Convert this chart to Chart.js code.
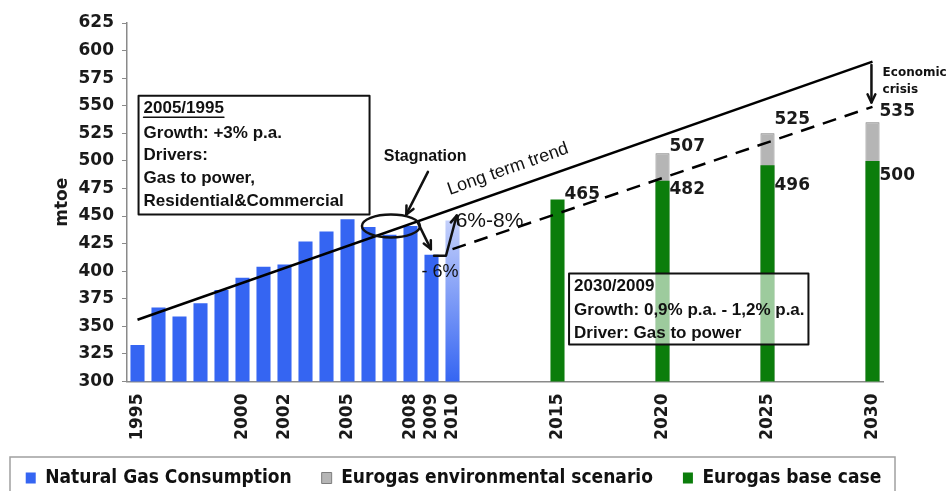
<!DOCTYPE html>
<html>
<head>
<meta charset="utf-8">
<script src="https://cdn.jsdelivr.net/npm/chart.js@4.4.1/dist/chart.umd.min.js"></script>
<style>
  html, body { margin: 0; padding: 0; background: #fff; }
  #wrap { width: 947px; height: 491px; }
</style>
</head>
<body>
<div id="wrap"><canvas id="gasChart"></canvas></div>
<script>
// one slot per year on the category axis
const years = ['1995', '1996', '1997', '1998', '1999', '2000', '2001', '2002', '2003', '2004',
  '2005', '2006', '2007', '2008', '2009', '2010', '2011', '2012', '2013', '2014', '2015',
  '2016', '2017', '2018', '2019', '2020', '2021', '2022', '2023', '2024', '2025', '2026',
  '2027', '2028', '2029', '2030'];
const shownYears = ['1995', '2000', '2002', '2005', '2008', '2009', '2010', '2015', '2020', '2025', '2030'];

const historyYears = ['1995', '1996', '1997', '1998', '1999', '2000', '2001', '2002',
  '2003', '2004', '2005', '2006', '2007', '2008', '2009', '2010'];
const consumption = [333, 367, 359, 371, 383, 394, 404, 406, 427, 436, 447, 440, 433, 441, 415, 446];

const outlookYears = ['2015', '2020', '2025', '2030'];
const baseCase = [465, 482, 496, 500];
const envScenario = [null, 507, 525, 535];

const longTrendYears = ['1995', '2030'];
const longTrend = [356, 590];
const afterCrisisYears = ['2010', '2030'];
const afterCrisis = [420, 549];

const BLUE = '#3565f2';
const GREEN = '#0b7d0b';
const GREY = '#b5b5b5';
const AXIS = '#8a8a8a';

const pts = (xs, vs) => xs.map((x, i) => ({ x, y: vs[i] })).filter(p => p.y !== null);

function blueFill(ctx) {
  const area = ctx.chart.chartArea;
  if (!ctx.raw || ctx.raw.x !== '2010' || !area) return BLUE;
  const ys = ctx.chart.scales.y;
  const g = ctx.chart.ctx.createLinearGradient(0, ys.getPixelForValue(ctx.raw.y), 0, ys.getPixelForValue(300));
  g.addColorStop(0, '#c4d0fb');
  g.addColorStop(1, BLUE);
  return g;
}

// arrows, boxes and notes drawn over the bars
const notes = {
  id: 'notes',
  afterDatasetsDraw(chart) {
    const { ctx, scales: { x, y } } = chart;
    const X = yr => x.getPixelForValue(yr - 1995);
    const Y = v => y.getPixelForValue(v);

    ctx.save();
    ctx.strokeStyle = '#000';
    ctx.fillStyle = '#111';
    ctx.lineCap = 'round';
    ctx.lineJoin = 'round';

    function arrow(points, head = 9) {
      ctx.lineWidth = 2.5;
      ctx.beginPath();
      points.forEach((p, i) => i ? ctx.lineTo(p[0], p[1]) : ctx.moveTo(p[0], p[1]));
      ctx.stroke();
      const [ax, ay] = points[points.length - 2];
      const [bx, by] = points[points.length - 1];
      const a = Math.atan2(by - ay, bx - ax);
      ctx.beginPath();
      ctx.moveTo(bx - head * Math.cos(a - 0.45), by - head * Math.sin(a - 0.45));
      ctx.lineTo(bx, by);
      ctx.lineTo(bx - head * Math.cos(a + 0.45), by - head * Math.sin(a + 0.45));
      ctx.stroke();
    }

    function textBox(x0, x1, top, bottom, lines, fill) {
      const l = X(x0), r = X(x1), t = Y(top), b = Y(bottom);
      if (fill) {
        ctx.fillStyle = fill;
        ctx.fillRect(l, t, r - l, b - t);
      }
      ctx.lineWidth = 2;
      ctx.strokeStyle = '#111';
      ctx.strokeRect(l, t, r - l, b - t);
      ctx.fillStyle = '#111';
      ctx.font = 'bold 17px "Liberation Sans", Arial, sans-serif';
      ctx.textAlign = 'left';
      ctx.textBaseline = 'middle';
      lines.forEach(([txt, dy, underline]) => {
        ctx.fillText(txt, l + 5, t + dy);
        if (underline) {
          const w = ctx.measureText(txt).width;
          ctx.lineWidth = 1.5;
          ctx.beginPath();
          ctx.moveTo(l + 5, t + dy + 8.5);
          ctx.lineTo(l + 5 + w, t + dy + 8.5);
          ctx.stroke();
        }
      });
    }

    textBox(1995.05, 2006.05, 559, 451.5, [
      ['2005/1995', 13, true],
      ['Growth: +3% p.a.', 38],
      ['Drivers:', 60],
      ['Gas to power,', 83],
      ['Residential&Commercial', 106]
    ], 'rgba(255,255,255,0.85)');

    textBox(2015.55, 2026.95, 398, 333.5, [
      ['2030/2009', 13],
      ['Growth: 0,9% p.a. - 1,2% p.a.', 37],
      ['Driver: Gas to power', 60]
    ], 'rgba(255,255,255,0.6)');

    // stagnation marker
    ctx.lineWidth = 2.5;
    ctx.beginPath();
    ctx.ellipse(X(2007.07), Y(441), 29, 11.5, 0, 0, Math.PI * 2);
    ctx.stroke();
    ctx.font = 'bold 16px "Liberation Sans", Arial, sans-serif';
    ctx.textAlign = 'center';
    ctx.textBaseline = 'middle';
    ctx.fillText('Stagnation', X(2008.7), Y(503.5));
    arrow([[X(2008.83), Y(490)], [X(2007.8), Y(451.5)]]);

    // crisis drop and rebound
    arrow([[X(2008.35), Y(444)], [X(2008.97), Y(420)]]);
    arrow([[X(2009.12), Y(414)], [X(2009.69), Y(414)], [X(2010.2), Y(450.5)]]);
    ctx.font = '18px "Liberation Sans", Arial, sans-serif';
    ctx.fillText('- 6%', X(2009.4), Y(399));
    ctx.font = '21px "Liberation Sans", Arial, sans-serif';
    ctx.textAlign = 'left';
    ctx.fillText('6%-8%', X(2010.15), Y(445));

    // long term trend caption, parallel to the trend line
    const ang = Math.atan2(Y(longTrend[1]) - Y(longTrend[0]), X(2030) - X(1995));
    ctx.save();
    ctx.translate(X(2012.64), Y(492.5));
    ctx.rotate(ang);
    ctx.font = '18px "Liberation Sans", Arial, sans-serif';
    ctx.textAlign = 'center';
    ctx.fillText('Long term trend', 0, 0);
    ctx.restore();

    // economic crisis gap at 2030
    arrow([[X(2029.95), Y(587)], [X(2029.95), Y(553)]]);
    ctx.font = 'bold 12px "DejaVu Sans", Verdana, sans-serif';
    ctx.textAlign = 'left';
    ctx.fillText('Economic', X(2030.48), Y(580));
    ctx.fillText('crisis', X(2030.48), Y(564));

    // value labels beside the outlook bars
    const baseShift = [-5, 9, 20, 15];
    const envShift = [0, -7, -14, -11];
    ctx.font = 'bold 17px "DejaVu Sans", Verdana, sans-serif';
    ctx.fillStyle = '#1a1a1a';
    outlookYears.forEach((yr, i) => {
      const px = x.getPixelForValue(years.indexOf(yr)) + 7;
      ctx.fillText(String(baseCase[i]), px, Y(baseCase[i]) + baseShift[i]);
      if (envScenario[i] !== null) {
        ctx.fillText(String(envScenario[i]), px, Y(envScenario[i]) + envShift[i]);
      }
    });

    ctx.restore();
  },
  afterDraw(chart) {
    // frame round the legend
    const { ctx } = chart;
    ctx.save();
    ctx.strokeStyle = '#a0a0a0';
    ctx.lineWidth = 1.5;
    ctx.strokeRect(10, 457, 885, 60);
    ctx.restore();
  }
};

const legendRank = { 2: 0, 4: 1, 3: 2 };

new Chart(document.getElementById('gasChart'), {
  type: 'bar',
  data: {
    labels: years,
    datasets: [
      {
        type: 'line',
        label: 'Long term trend',
        data: pts(longTrendYears, longTrend),
        borderColor: '#000',
        borderWidth: 2.5,
        pointRadius: 0
      },
      {
        type: 'line',
        label: 'After crisis',
        data: pts(afterCrisisYears, afterCrisis),
        borderColor: '#000',
        borderWidth: 2.5,
        borderDash: [14, 9],
        pointRadius: 0
      },
      {
        label: 'Natural Gas Consumption',
        data: pts(historyYears, consumption),
        backgroundColor: blueFill,
        borderWidth: 0,
        barPercentage: 0.67,
        categoryPercentage: 1
      },
      {
        label: 'Eurogas base case',
        data: pts(outlookYears, baseCase),
        backgroundColor: GREEN,
        borderWidth: 0,
        barPercentage: 0.67,
        categoryPercentage: 1
      },
      {
        label: 'Eurogas environmental scenario',
        data: pts(outlookYears, envScenario),
        backgroundColor: GREY,
        borderColor: '#7d7d7d',
        borderWidth: 1,
        barPercentage: 0.67,
        categoryPercentage: 1
      }
    ]
  },
  options: {
    responsive: true,
    maintainAspectRatio: false,
    animation: false,
    events: [],
    layout: { padding: { top: 23, left: -10, right: 30, bottom: -6.5 } },
    scales: {
      x: {
        type: 'category',
        stacked: true,
        offset: true,
        grid: { display: false, drawTicks: false },
        border: { color: AXIS, width: 1.5 },
        ticks: {
          autoSkip: false,
          minRotation: 90,
          maxRotation: 90,
          padding: 12,
          color: '#1a1a1a',
          font: { family: '"DejaVu Sans", Verdana, sans-serif', size: 17, weight: 'bold' },
          callback: (v, i) => shownYears.includes(years[i]) ? years[i] : ''
        },
        afterFit: s => { s.height = 57; }
      },
      y: {
        min: 300,
        max: 625,
        grid: { drawOnChartArea: false, drawTicks: true, tickLength: 5, color: AXIS },
        border: { color: AXIS, width: 1.5 },
        ticks: {
          stepSize: 25,
          padding: 8,
          color: '#1a1a1a',
          font: { family: '"DejaVu Sans", Verdana, sans-serif', size: 17, weight: 'bold' }
        },
        title: {
          display: true,
          text: 'mtoe',
          color: '#1a1a1a',
          padding: { top: 62, bottom: 0 },
          font: { family: '"DejaVu Sans", Verdana, sans-serif', size: 17, weight: 'bold' }
        },
        afterFit: s => { s.width = 137; }
      },
      yR: {
        position: 'right',
        grid: { display: false, drawTicks: false },
        border: { display: false },
        ticks: { display: false },
        afterFit: s => { s.width = 34; }
      }
    },
    plugins: {
      tooltip: { enabled: false },
      legend: {
        position: 'bottom',
        labels: {
          boxWidth: 10,
          boxHeight: 11,
          padding: 30,
          color: '#111',
          font: { family: '"DejaVu Sans Condensed", "DejaVu Sans", sans-serif', size: 19, weight: 'bold' },
          filter: item => item.datasetIndex >= 2,
          sort: (a, b) => legendRank[a.datasetIndex] - legendRank[b.datasetIndex]
        }
      }
    }
  },
  plugins: [notes]
});
</script>
</body>
</html>
